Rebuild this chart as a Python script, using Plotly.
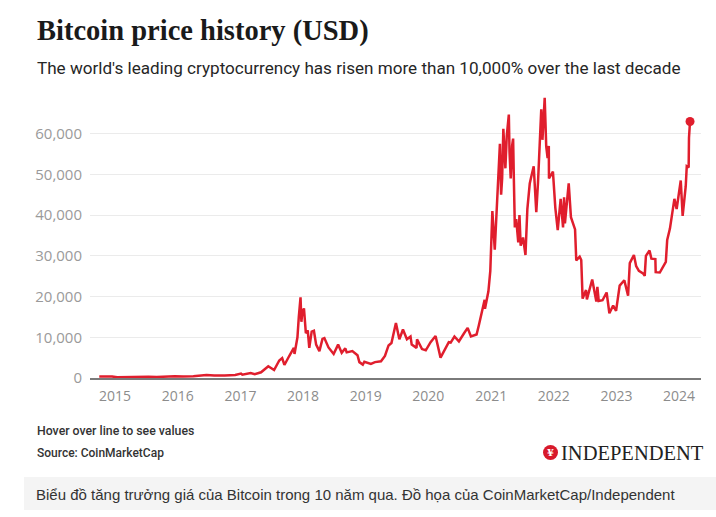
import plotly.graph_objects as go

# ---- data ----
dates = [
    "2014-10-01", "2014-11-15", "2014-12-15", "2015-01-14", "2015-02-15", "2015-04-01",
    "2015-06-01", "2015-07-15", "2015-09-01", "2015-11-04", "2015-12-15", "2016-02-01",
    "2016-04-01", "2016-06-17", "2016-08-01", "2016-10-01", "2016-12-01", "2017-01-04",
    "2017-01-12", "2017-03-01", "2017-03-25", "2017-05-01", "2017-05-25", "2017-06-12",
    "2017-07-16", "2017-08-15", "2017-09-01", "2017-09-14", "2017-10-12", "2017-10-20",
    "2017-11-08", "2017-11-12", "2017-11-29", "2017-12-07", "2017-12-17", "2017-12-22",
    "2017-12-27", "2018-01-06", "2018-01-17", "2018-01-28", "2018-02-06", "2018-02-20",
    "2018-03-05", "2018-03-18", "2018-04-06", "2018-04-24", "2018-05-05", "2018-05-29",
    "2018-06-28", "2018-07-24", "2018-08-14", "2018-09-04", "2018-09-12", "2018-10-15",
    "2018-11-14", "2018-11-25", "2018-12-15", "2018-12-24", "2019-01-31", "2019-02-24",
    "2019-03-31", "2019-04-23", "2019-05-14", "2019-05-31", "2019-06-26", "2019-07-16",
    "2019-08-06", "2019-08-29", "2019-09-19", "2019-09-26", "2019-10-24", "2019-10-27",
    "2019-11-25", "2019-12-17", "2020-01-14", "2020-02-12", "2020-03-12", "2020-04-29",
    "2020-05-10", "2020-06-01", "2020-06-27", "2020-07-27", "2020-08-17", "2020-09-05",
    "2020-10-08", "2020-10-21", "2020-11-05", "2020-11-24", "2020-11-26", "2020-12-16",
    "2020-12-27", "2021-01-08", "2021-01-22", "2021-02-09", "2021-02-21", "2021-02-28",
    "2021-03-06", "2021-03-13", "2021-03-18", "2021-03-25", "2021-04-02", "2021-04-14",
    "2021-04-18", "2021-04-25", "2021-05-03", "2021-05-09", "2021-05-13", "2021-05-19",
    "2021-05-27", "2021-06-01", "2021-06-08", "2021-06-15", "2021-06-22", "2021-07-06",
    "2021-07-20", "2021-07-31", "2021-08-14", "2021-08-23", "2021-09-06", "2021-09-21",
    "2021-10-01", "2021-10-20", "2021-10-27", "2021-11-09", "2021-11-18", "2021-11-26",
    "2021-12-03", "2021-12-04", "2021-12-27", "2022-01-10", "2022-01-24", "2022-02-10",
    "2022-02-24", "2022-03-02", "2022-03-07", "2022-03-29", "2022-04-11", "2022-05-05",
    "2022-05-12", "2022-06-01", "2022-06-10", "2022-06-18", "2022-07-08", "2022-07-13",
    "2022-08-13", "2022-09-06", "2022-09-12", "2022-09-20", "2022-10-12", "2022-11-05",
    "2022-11-21", "2022-12-13", "2022-12-30", "2023-01-20", "2023-02-16", "2023-03-10",
    "2023-03-20", "2023-04-13", "2023-04-26", "2023-05-12", "2023-06-05", "2023-06-15",
    "2023-06-22", "2023-07-13", "2023-07-24", "2023-08-16", "2023-08-18", "2023-09-11",
    "2023-10-16", "2023-10-24", "2023-11-09", "2023-12-05", "2023-12-18", "2024-01-11",
    "2024-01-22", "2024-02-09", "2024-02-15", "2024-02-26", "2024-02-28", "2024-03-05",
]
prices = [
    380, 390, 340, 200, 240, 250,
    230, 290, 230, 400, 450, 370,
    420, 750, 600, 610, 750, 1100,
    800, 1200, 950, 1400, 2400, 2900,
    1950, 4300, 4900, 3200, 5400, 6000,
    7400, 5900, 10000, 15000, 19800, 13800,
    16000, 17100, 11000, 11700, 7400, 11400,
    11600, 8200, 6600, 9600, 9800, 7500,
    5900, 8200, 6200, 7300, 6300, 6600,
    5600, 3900, 3300, 4000, 3450, 3900,
    4100, 5400, 8000, 8600, 13500, 9500,
    11900, 9500, 10200, 8200, 7400, 9500,
    7100, 6800, 8800, 10300, 5000, 8800,
    8700, 10200, 9000, 11000, 12300, 10200,
    10700, 12900, 15600, 19200, 17000, 21300,
    26300, 41000, 31500, 46000, 57500, 45000,
    49000, 61200, 57500, 51500, 59500, 64700,
    55500, 49000, 57000, 58800, 49500, 37000,
    39000, 36500, 33300, 40000, 32500, 34500,
    30200, 41500, 47800, 49500, 52000, 40700,
    48000, 66000, 58500, 68800, 56900, 54000,
    57000, 49000, 50700, 41800, 36300, 44000,
    37000, 44400, 38000, 47800, 39500, 36500,
    28900, 29800, 29000, 19500, 21600, 19300,
    24200, 18800, 22400, 18900, 19100, 21000,
    15900, 17800, 16500, 22700, 24000, 20200,
    28200, 30200, 27500, 26300, 25700, 25100,
    30000, 31300, 29300, 29200, 26000, 25900,
    28500, 33900, 36700, 44000, 41500, 48500,
    39800, 47100, 52000, 51700, 59000, 63000,
]

y_ticks = [0, 10000, 20000, 30000, 40000, 50000, 60000]
y_tick_text = ["0", "10,000", "20,000", "30,000", "40,000", "50,000", "60,000"]
x_ticks = ["2015-01-01", "2016-01-01", "2017-01-01", "2018-01-01", "2019-01-01",
           "2020-01-01", "2021-01-01", "2022-01-01", "2023-01-01", "2024-01-01"]
x_tick_text = ["2015", "2016", "2017", "2018", "2019", "2020", "2021", "2022", "2023", "2024"]

title = "Bitcoin price history (USD)"
subtitle = "The world's leading cryptocurrency has risen more than 10,000% over the last decade"
hover_note = "Hover over line to see values"
source = "Source: CoinMarketCap"
caption = "Biểu đồ tăng trưởng giá của Bitcoin trong 10 năm qua. Đồ họa của CoinMarketCap/Independent"

# ---- layout geometry (pixels) ----
W, H = 716, 517
L, R, T, B = 90, 701, 93, 378
RED = "#e01e2d"


def px(x):
    return (x - L) / (R - L)


def py(y):
    return (B - y) / (B - T)


fig = go.Figure()
fig.add_trace(go.Scatter(
    x=dates, y=prices, mode="lines",
    line=dict(color=RED, width=2.5),
    hoverinfo="x+y", showlegend=False,
))
fig.add_trace(go.Scatter(
    x=[dates[-1]], y=[prices[-1]], mode="markers",
    marker=dict(color=RED, size=9),
    hoverinfo="skip", showlegend=False,
))

fig.update_layout(
    width=W, height=H,
    margin=dict(l=L, r=W - R, t=T, b=H - B),
    paper_bgcolor="white", plot_bgcolor="white",
    xaxis=dict(
        range=["2014-08-08", "2024-05-08"],
        tickvals=x_ticks, ticktext=x_tick_text,
        showgrid=False, zeroline=False,
        showline=True, linecolor="#7a7a7a", linewidth=2,
        ticks="outside", ticklen=4, tickcolor="rgba(0,0,0,0)",
        tickfont=dict(family="Open Sans", size=14, color="#8c8c8c"),
    ),
    yaxis=dict(
        range=[0, 70000],
        tickvals=y_ticks, ticktext=y_tick_text,
        showgrid=True, gridcolor="#ebebeb", gridwidth=1,
        zeroline=False, showline=False,
        ticks="outside", ticklen=4, tickcolor="rgba(0,0,0,0)",
        tickfont=dict(family="Open Sans", size=15, color="#9a9a9a"),
    ),
)

# caption background box
fig.add_shape(type="rect", xref="paper", yref="paper",
              x0=px(24), x1=px(716), y0=py(510), y1=py(477),
              fillcolor="#f4f4f4", line=dict(width=0), layer="below")

# Independent logo circle
fig.add_shape(type="circle", xref="paper", yref="paper",
              x0=px(543), x1=px(558), y0=py(460), y1=py(445),
              fillcolor="#d8192b", line=dict(width=0))

annos = [
    dict(text="<b>" + title + "</b>", x=px(35), y=py(31),
         font=dict(family="Liberation Serif", size=28.5, color="#1a1a1a")),
    dict(text=subtitle, x=px(35), y=py(68),
         font=dict(family="Roboto", size=17.1, color="#262626")),
    dict(text=hover_note, x=px(35), y=py(431),
         font=dict(family="Roboto", size=12.3, color="#333333", weight=500)),
    dict(text=source, x=px(35), y=py(453),
         font=dict(family="Roboto", size=12, color="#333333", weight=500)),
    dict(text=caption, x=px(34), y=py(494),
         font=dict(family="Liberation Sans", size=15, color="#333333")),
    dict(text="INDEPENDENT", x=px(559), y=py(453),
         font=dict(family="Liberation Serif", size=20.5, color="#222222")),
    dict(text="<b>¥</b>", x=px(550.5), y=py(452.5), xanchor="center",
         font=dict(family="DejaVu Serif", size=10, color="white")),
]
for a in annos:
    a.setdefault("xanchor", "left")
    fig.add_annotation(xref="paper", yref="paper", yanchor="middle",
                       showarrow=False, **a)

fig.write_html("out.html")
